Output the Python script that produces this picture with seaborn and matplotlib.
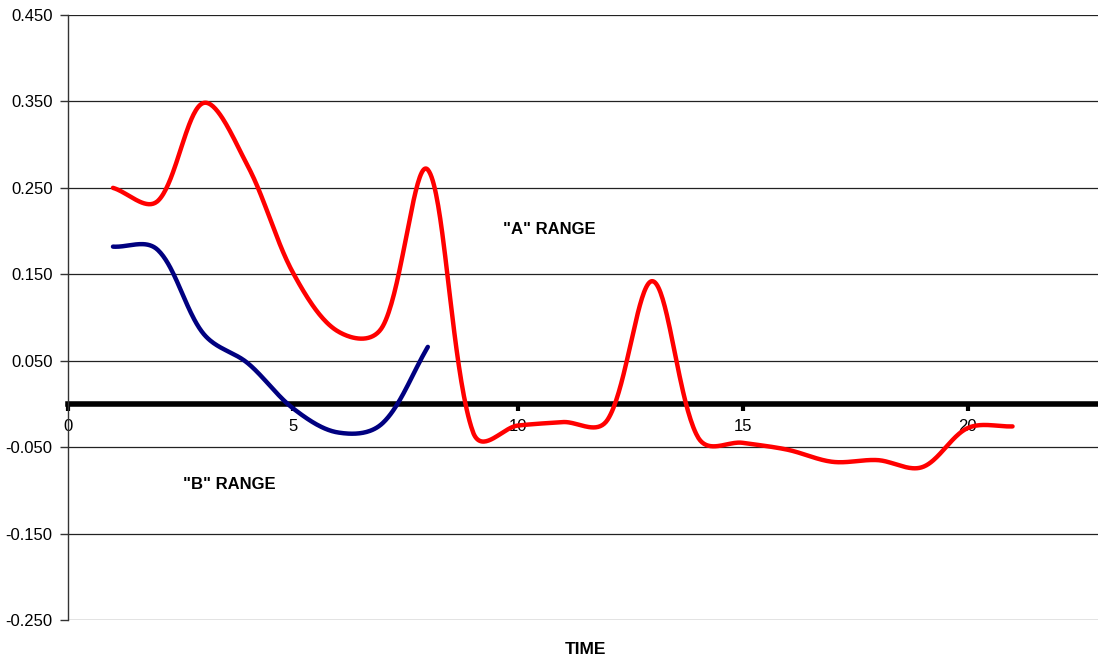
import numpy as np
import pandas as pd
import matplotlib
matplotlib.use("Agg")
import matplotlib.pyplot as plt
import seaborn as sns

# values
time_a = [1, 2, 3, 4, 5, 6, 7, 8, 9, 10, 11, 12, 13, 14, 15, 16, 17, 18, 19, 20, 21]
range_a = [0.250, 0.235, 0.348, 0.275, 0.152, 0.084, 0.090, 0.271, -0.032, -0.025,
           -0.021, -0.018, 0.142, -0.038, -0.045, -0.053, -0.067, -0.065, -0.073,
           -0.028, -0.026]

time_b = [1, 2, 3, 4, 5, 6, 7, 8]
range_b = [0.182, 0.178, 0.082, 0.047, -0.005, -0.033, -0.022, 0.066]

y_ticks = [0.45, 0.35, 0.25, 0.15, 0.05, -0.05, -0.15, -0.25]
x_ticks = [0, 5, 10, 15, 20]


def smooth(ax, xs, ys, n=40):
    # Excel-like smoothed line: bezier through the points, tangents weighted
    # by the on-screen length of the neighbouring segments
    p = ax.transData.transform(np.column_stack([xs, ys]).astype(float))
    m = len(p)
    d = np.sqrt(np.linalg.norm(np.diff(p, axis=0), axis=1))
    c_out, c_in = [], []
    for i in range(m):
        prev = p[max(i - 1, 0)]
        nxt = p[min(i + 1, m - 1)]
        tan = nxt - prev
        lp = d[i - 1] if i > 0 else 0.0
        ln = d[i] if i < m - 1 else 0.0
        tot = lp + ln if lp + ln > 0 else 1.0
        c_out.append(p[i] + tan * ln / tot / 3)
        c_in.append(p[i] - tan * lp / tot / 3)
    t = np.linspace(0, 1, n)[:, None]
    out = []
    for i in range(m - 1):
        p1, c1, c2, p2 = p[i], c_out[i], c_in[i + 1], p[i + 1]
        seg = (1 - t) ** 3 * p1 + 3 * (1 - t) ** 2 * t * c1 + 3 * (1 - t) * t ** 2 * c2 + t ** 3 * p2
        out.append(seg if i == 0 else seg[1:])
    out = ax.transData.inverted().transform(np.vstack(out))
    return pd.DataFrame({"time": out[:, 0], "value": out[:, 1]})


sns.set_style("white")
plt.rcParams["font.family"] = ["Liberation Sans", "DejaVu Sans"]

fig = plt.figure(figsize=(10.98, 6.59), dpi=100)
ax = fig.add_axes([68 / 1098, 39 / 659, 1 - 68 / 1098, 605 / 659])
ax.set_xlim(0, 22.9)
ax.set_ylim(-0.25, 0.45)

sns.lineplot(data=smooth(ax, time_a, range_a), x="time", y="value", sort=False,
             estimator=None, color="#ff0000", linewidth=3.2, ax=ax)
sns.lineplot(data=smooth(ax, time_b, range_b), x="time", y="value", sort=False,
             estimator=None, color="#000080", linewidth=3.2, ax=ax)

ax.set_xlim(0, 22.9)
ax.set_ylim(-0.25, 0.45)
ax.set_yticks(y_ticks)
ax.set_yticklabels([f"{v:.3f}" for v in y_ticks])
ax.set_xticks(x_ticks)
ax.set_xticklabels([str(v) for v in x_ticks])
ax.grid(axis="y", color="#222222", linewidth=0.9)
ax.set_axisbelow(True)
ax.set_xlabel("")
ax.set_ylabel("")

for side in ["top", "right"]:
    ax.spines[side].set_visible(False)
ax.spines["left"].set_color("#333333")
ax.spines["left"].set_linewidth(1.0)
ax.spines["bottom"].set_position(("data", 0))
ax.spines["bottom"].set_color("black")
ax.spines["bottom"].set_linewidth(4)
ax.spines["bottom"].set_zorder(1)

ax.tick_params(axis="y", direction="out", length=6, width=1, color="#333333",
               labelsize=12, labelcolor="black", pad=5, left=True)
ax.tick_params(axis="x", direction="out", length=5, width=3, color="black",
               labelsize=12, labelcolor="black", pad=6, bottom=True)

ax.text(10.71, 0.202, '"A" RANGE', fontsize=12, fontweight="bold", ha="center", va="center", color="black")
ax.text(3.58, -0.093, '"B" RANGE', fontsize=12, fontweight="bold", ha="center", va="center", color="black")
fig.text(585 / 1098, 1 - 649 / 659, "TIME", fontsize=12.5, fontweight="bold", ha="center", va="center", color="black")

fig.savefig("out.png", dpi=100)
